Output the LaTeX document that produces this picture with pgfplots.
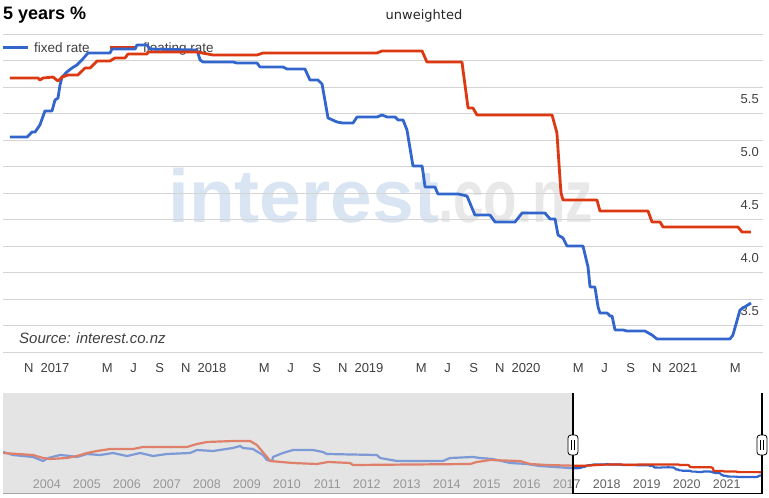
\documentclass[border=0pt]{standalone}
\usepackage{fontspec}
\setmainfont{Liberation Sans}
\newfontfamily\dejavu{DejaVu Sans}
\usepackage{graphicx}
\usepackage{pgfplots}
\usepackage{pgfplotstable}
\pgfplotsset{compat=1.18}
\definecolor{gblue}{HTML}{3366CC}
\definecolor{gred}{HTML}{DC3912}
\definecolor{gridc}{HTML}{D4D4D4}
\definecolor{wmblue}{HTML}{DAE5F3}
\definecolor{wmgray}{HTML}{E8E8E8}
\definecolor{navbg}{HTML}{E4E4E4}
\definecolor{txt}{HTML}{404040}

\pgfplotstableread{
t v
2016.713 5.278
2016.822 5.278
2016.854 5.325
2016.873 5.325
2016.904 5.392
2016.936 5.524
2016.981 5.524
2017.000 5.627
2017.019 5.646
2017.032 5.769
2017.045 5.844
2017.076 5.892
2017.108 5.929
2017.140 5.958
2017.172 6.005
2017.210 6.071
2017.350 6.071
2017.363 6.108
2017.510 6.108
2017.522 6.146
2017.586 6.146
2017.605 6.108
2017.904 6.099
2017.924 6.005
2017.943 5.986
2018.134 5.986
2018.159 5.976
2018.287 5.976
2018.306 5.939
2018.452 5.939
2018.478 5.920
2018.592 5.920
2018.624 5.816
2018.675 5.816
2018.701 5.778
2018.739 5.458
2018.796 5.420
2018.834 5.410
2018.898 5.410
2018.924 5.467
2019.051 5.467
2019.083 5.486
2019.115 5.467
2019.166 5.467
2019.185 5.439
2019.217 5.439
2019.242 5.344
2019.280 5.005
2019.338 5.005
2019.344 4.948
2019.357 4.807
2019.420 4.807
2019.439 4.741
2019.567 4.741
2019.624 4.722
2019.675 4.542
2019.771 4.542
2019.803 4.476
2019.930 4.476
2019.975 4.561
2020.121 4.561
2020.153 4.505
2020.185 4.505
2020.204 4.354
2020.236 4.325
2020.261 4.250
2020.363 4.250
2020.395 4.052
2020.408 3.863
2020.439 3.863
2020.459 3.675
2020.471 3.618
2020.516 3.618
2020.535 3.590
2020.548 3.590
2020.567 3.458
2020.618 3.458
2020.643 3.448
2020.758 3.448
2020.803 3.410
2020.834 3.373
2021.299 3.373
2021.318 3.410
2021.363 3.646
2021.382 3.665
2021.433 3.712
}\mainfixed

\pgfplotstableread{
t v
2016.713 5.835
2016.892 5.835
2016.904 5.816
2016.924 5.835
2016.987 5.844
2017.019 5.807
2017.045 5.844
2017.083 5.863
2017.146 5.863
2017.191 5.929
2017.223 5.929
2017.268 5.995
2017.350 5.995
2017.382 6.024
2017.446 6.024
2017.465 6.061
2017.586 6.061
2017.592 6.080
2017.904 6.080
2018.006 6.052
2018.287 6.052
2018.325 6.071
2019.051 6.071
2019.083 6.090
2019.338 6.090
2019.369 5.986
2019.592 5.986
2019.631 5.552
2019.662 5.552
2019.688 5.486
2020.166 5.486
2020.197 5.316
2020.217 4.873
2020.223 4.750
2020.236 4.684
2020.452 4.684
2020.471 4.580
2020.777 4.580
2020.803 4.476
2020.854 4.476
2020.873 4.429
2021.350 4.429
2021.376 4.382
2021.433 4.382
}\mainfloat

\pgfplotstableread{
t v
2002.45 8.82
2002.70 8.16
2003.20 7.73
2003.45 6.85
2003.58 7.51
2003.88 8.16
2004.13 7.94
2004.30 7.73
2004.55 8.38
2004.88 8.16
2005.20 8.60
2005.55 7.94
2005.88 8.60
2006.20 7.94
2006.55 8.38
2007.13 8.60
2007.30 9.25
2007.70 9.03
2008.20 9.69
2008.38 10.12
2008.45 9.69
2008.70 9.47
2008.95 8.16
2009.05 7.07
2009.18 6.85
2009.20 7.73
2009.45 8.60
2009.70 9.25
2010.20 9.25
2010.45 8.82
2010.55 8.38
2011.80 8.16
2011.88 7.51
2012.30 6.85
2013.45 6.85
2013.63 7.51
2014.20 7.73
2014.38 7.51
2014.70 7.29
2015.13 6.42
2015.55 6.20
2015.88 5.76
2016.713 5.278
}\histfixed

\pgfplotstableread{
t v
2002.45 8.60
2003.20 8.16
2003.45 7.51
2003.63 7.29
2004.05 7.51
2004.30 7.94
2004.55 8.60
2004.80 9.03
2005.13 9.47
2005.70 9.47
2005.95 9.91
2007.05 9.91
2007.30 10.56
2007.55 11.00
2008.20 11.21
2008.63 11.21
2008.80 10.34
2009.05 7.73
2009.13 6.85
2009.70 6.42
2010.30 6.20
2010.58 6.64
2011.13 6.42
2011.20 5.98
2012.13 6.05
2014.13 6.20
2014.30 6.64
2014.63 7.07
2015.38 6.85
2015.63 6.20
2016.05 5.98
2016.713 5.835
}\histfloat

\begin{document}
\begin{tikzpicture}[x=1pt,y=1pt]
\useasboundingbox (0pt,0pt) rectangle (769pt,-498pt);
\fill[white] (0pt,0pt) rectangle (769pt,-498pt);
% watermark
\node[anchor=base west, inner sep=0pt, text=wmblue, font=\fontsize{75pt}{75pt}\selectfont\bfseries] at (168pt,-222pt) {interest};
\node[anchor=base west, inner sep=0pt, text=wmgray, font=\fontsize{75pt}{75pt}\selectfont\bfseries] at (438pt,-222pt) {\scalebox{0.73}[1]{.co.nz}};
% titles
\node[anchor=base west, inner sep=0pt, font=\fontsize{18pt}{18pt}\selectfont\bfseries] at (3pt,-19.5pt) {5 years \%};
\node[anchor=base, inner sep=0pt, text=black!85, font=\dejavu\fontsize{13pt}{13pt}\selectfont] at (424pt,-19pt) {unweighted};
% legend
\draw[gblue, line width=3pt] (3pt,-47.8pt) -- (28pt,-47.8pt);
\node[anchor=base west, inner sep=0pt, text=txt, font=\fontsize{13.5pt}{13.5pt}\selectfont] at (34pt,-52.5pt) {fixed rate};
\draw[gred, line width=3pt] (110pt,-47.5pt) -- (135pt,-47.5pt);
\node[anchor=base west, inner sep=0pt, text=txt, font=\fontsize{13.5pt}{13.5pt}\selectfont] at (143pt,-52.5pt) {floating rate};

\begin{axis}[
  at={(3pt,-352pt)}, anchor=south west, scale only axis,
  width=760pt, height=318pt,
  xmin=2016.6688, xmax=2021.5096, ymin=3.25, ymax=6.25,
  axis line style={draw=none},
  major tick length=0pt, minor tick length=0pt,
  /pgf/number format/assume math mode=true,
  ytick={3.5,4,4.5,5,5.5,6},
  yticklabels={3.5,4.0,4.5,5.0,5.5,},
  minor ytick={3.25,3.75,4.25,4.75,5.25,5.75,6.25},
  ymajorgrids, yminorgrids,
  major grid style={gridc, line width=1pt},
  minor grid style={gridc, line width=1pt},
  yticklabel pos=right,
  yticklabel style={anchor=base east, inner sep=0pt, xshift=-4pt, yshift=10pt, text=txt, font=\fontsize{13pt}{13pt}\selectfont},
  xtick={2016.8333,2017,2017.3333,2017.5,2017.6667,2017.8333,2018,2018.3333,2018.5,2018.6667,2018.8333,2019,2019.3333,2019.5,2019.6667,2019.8333,2020,2020.3333,2020.5,2020.6667,2020.8333,2021,2021.3333},
  xticklabels={N,2017,M,J,S,N,2018,M,J,S,N,2019,M,J,S,N,2020,M,J,S,N,2021,M},
  xticklabel style={anchor=base, inner sep=0pt, yshift=-20pt, text=txt, font=\fontsize{13pt}{13pt}\selectfont},
]
\addplot[gblue, line width=2.8pt, line join=round, no markers] table {\mainfixed};
\addplot[gred, line width=2.8pt, line join=round, no markers] table {\mainfloat};
\end{axis}

\node[anchor=base west, inner sep=0pt, text=txt, font=\fontsize{15pt}{15pt}\selectfont\itshape] at (19pt,-343.3pt) {Source: interest.co.nz};

% navigator
\fill[navbg] (3pt,-393pt) rectangle (573pt,-493pt);
\begin{axis}[
  at={(3pt,-493pt)}, anchor=south west, scale only axis,
  width=759pt, height=100pt,
  xmin=2002.45, xmax=2021.43, ymin=-0.123, ymax=21.677,
  axis line style={draw=none},
  major tick length=0pt,
  ytick=\empty,
  xtick={2004,2005,2006,2007,2008,2009,2010,2011,2012,2013,2014,2015,2016,2017,2018,2019,2020,2021},
  xticklabels={2004,2005,2006,2007,2008,2009,2010,2011,2012,2013,2014,2015,2016,2017,2018,2019,2020,2021},
  xticklabel style={anchor=base east, inner sep=0pt, xshift=-4pt, yshift=5pt, text=black!62, font=\fontsize{12.5pt}{12.5pt}\selectfont},
]
\addplot[gblue, line width=2.2pt, line join=round, no markers] table {\histfixed};
\addplot[gred, line width=2.2pt, line join=round, no markers] table {\histfloat};
\addplot[gblue, line width=2.2pt, line join=round, no markers] table {\mainfixed};
\addplot[gred, line width=2.2pt, line join=round, no markers] table {\mainfloat};
\end{axis}
\fill[navbg, opacity=0.42] (3pt,-393pt) rectangle (573pt,-493pt);
\draw[black!35, line width=1pt] (3pt,-493pt) -- (573pt,-493pt);
\draw[black, line width=1pt] (573pt,-493pt) -- (762pt,-493pt);
\draw[black, line width=1.2pt] (573pt,-393pt) -- (573pt,-494pt);
\draw[black, line width=1.2pt] (762pt,-393pt) -- (762pt,-494pt);
\draw[black, fill=white, rounded corners=3pt, line width=0.8pt] (568pt,-435pt) rectangle (578pt,-455pt);
\draw[black, line width=0.7pt] (571.8pt,-440pt) -- (571.8pt,-450pt) (574.2pt,-440pt) -- (574.2pt,-450pt);
\draw[black, fill=white, rounded corners=3pt, line width=0.8pt] (757pt,-435pt) rectangle (767pt,-455pt);
\draw[black, line width=0.7pt] (760.8pt,-440pt) -- (760.8pt,-450pt) (763.2pt,-440pt) -- (763.2pt,-450pt);
\end{tikzpicture}
\end{document}
